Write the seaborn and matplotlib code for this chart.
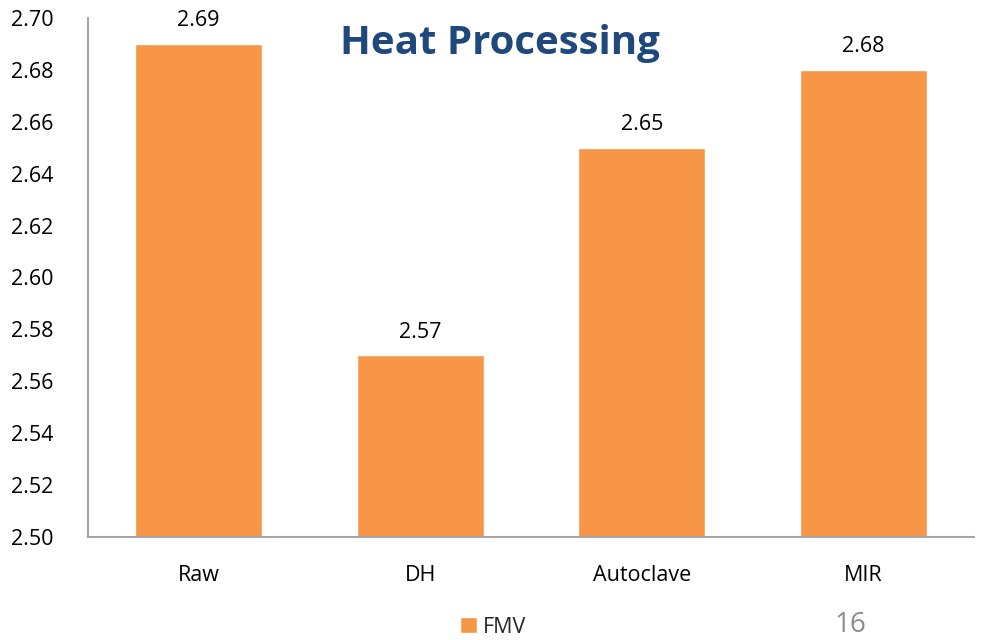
import matplotlib
matplotlib.use("Agg")
import matplotlib.pyplot as plt
import seaborn as sns
import pandas as pd

categories = ["Raw", "DH", "Autoclave", "MIR"]
fmv_values = [2.69, 2.57, 2.65, 2.68]
series_name = "FMV"
y_ticks = [2.50, 2.52, 2.54, 2.56, 2.58, 2.60, 2.62, 2.64, 2.66, 2.68, 2.70]

sns.set_style("white")
plt.rcParams["font.family"] = ["Open Sans", "DejaVu Sans"]

df = pd.DataFrame({"Treatment": categories, "Value": fmv_values, "Series": series_name})

fig = plt.figure(figsize=(9.86, 6.40), dpi=100)
ax = fig.add_axes([0.0892, 0.161, 0.8988, 0.811])

bar_color = "#F79646"
sns.barplot(data=df, x="Treatment", y="Value", hue="Series", palette=[bar_color],
            width=0.573, ax=ax, legend=True, saturation=1)

ax.set_ylim(2.50, 2.70)
ax.set_yticks(y_ticks)
ax.set_yticklabels([f"{t:.2f}" for t in y_ticks])
ax.set_xlabel("")
ax.set_ylabel("")
ax.tick_params(axis="both", length=0, labelsize=15.5, colors="black")
ax.tick_params(axis="x", pad=20)
ax.tick_params(axis="y", pad=25)

for side in ["top", "right"]:
    ax.spines[side].set_visible(False)
for side in ["left", "bottom"]:
    ax.spines[side].set_color("#A6A6A6")
    ax.spines[side].set_linewidth(1.5)

for container in ax.containers:
    ax.bar_label(container, labels=[f"{v:.2f}" for v in fmv_values],
                 padding=9, fontsize=15.5, color="black")

ax.text(0.465, 0.95, "Heat Processing", transform=ax.transAxes, ha="center", va="center",
        fontsize=29, fontweight="bold", color="#1F497D")

leg = ax.get_legend()
handles = leg.legend_handles
ax.legend_.remove()
fig.legend(handles, [series_name], loc="center", bbox_to_anchor=(0.5, 0.02),
           frameon=False, fontsize=15.5, handlelength=0.8, handleheight=0.8,
           handletextpad=0.25)

fig.text(0.862, 0.001, "16", fontsize=20, color="#8C8C8C", ha="center", va="bottom")

fig.savefig("out.png", dpi=100)
